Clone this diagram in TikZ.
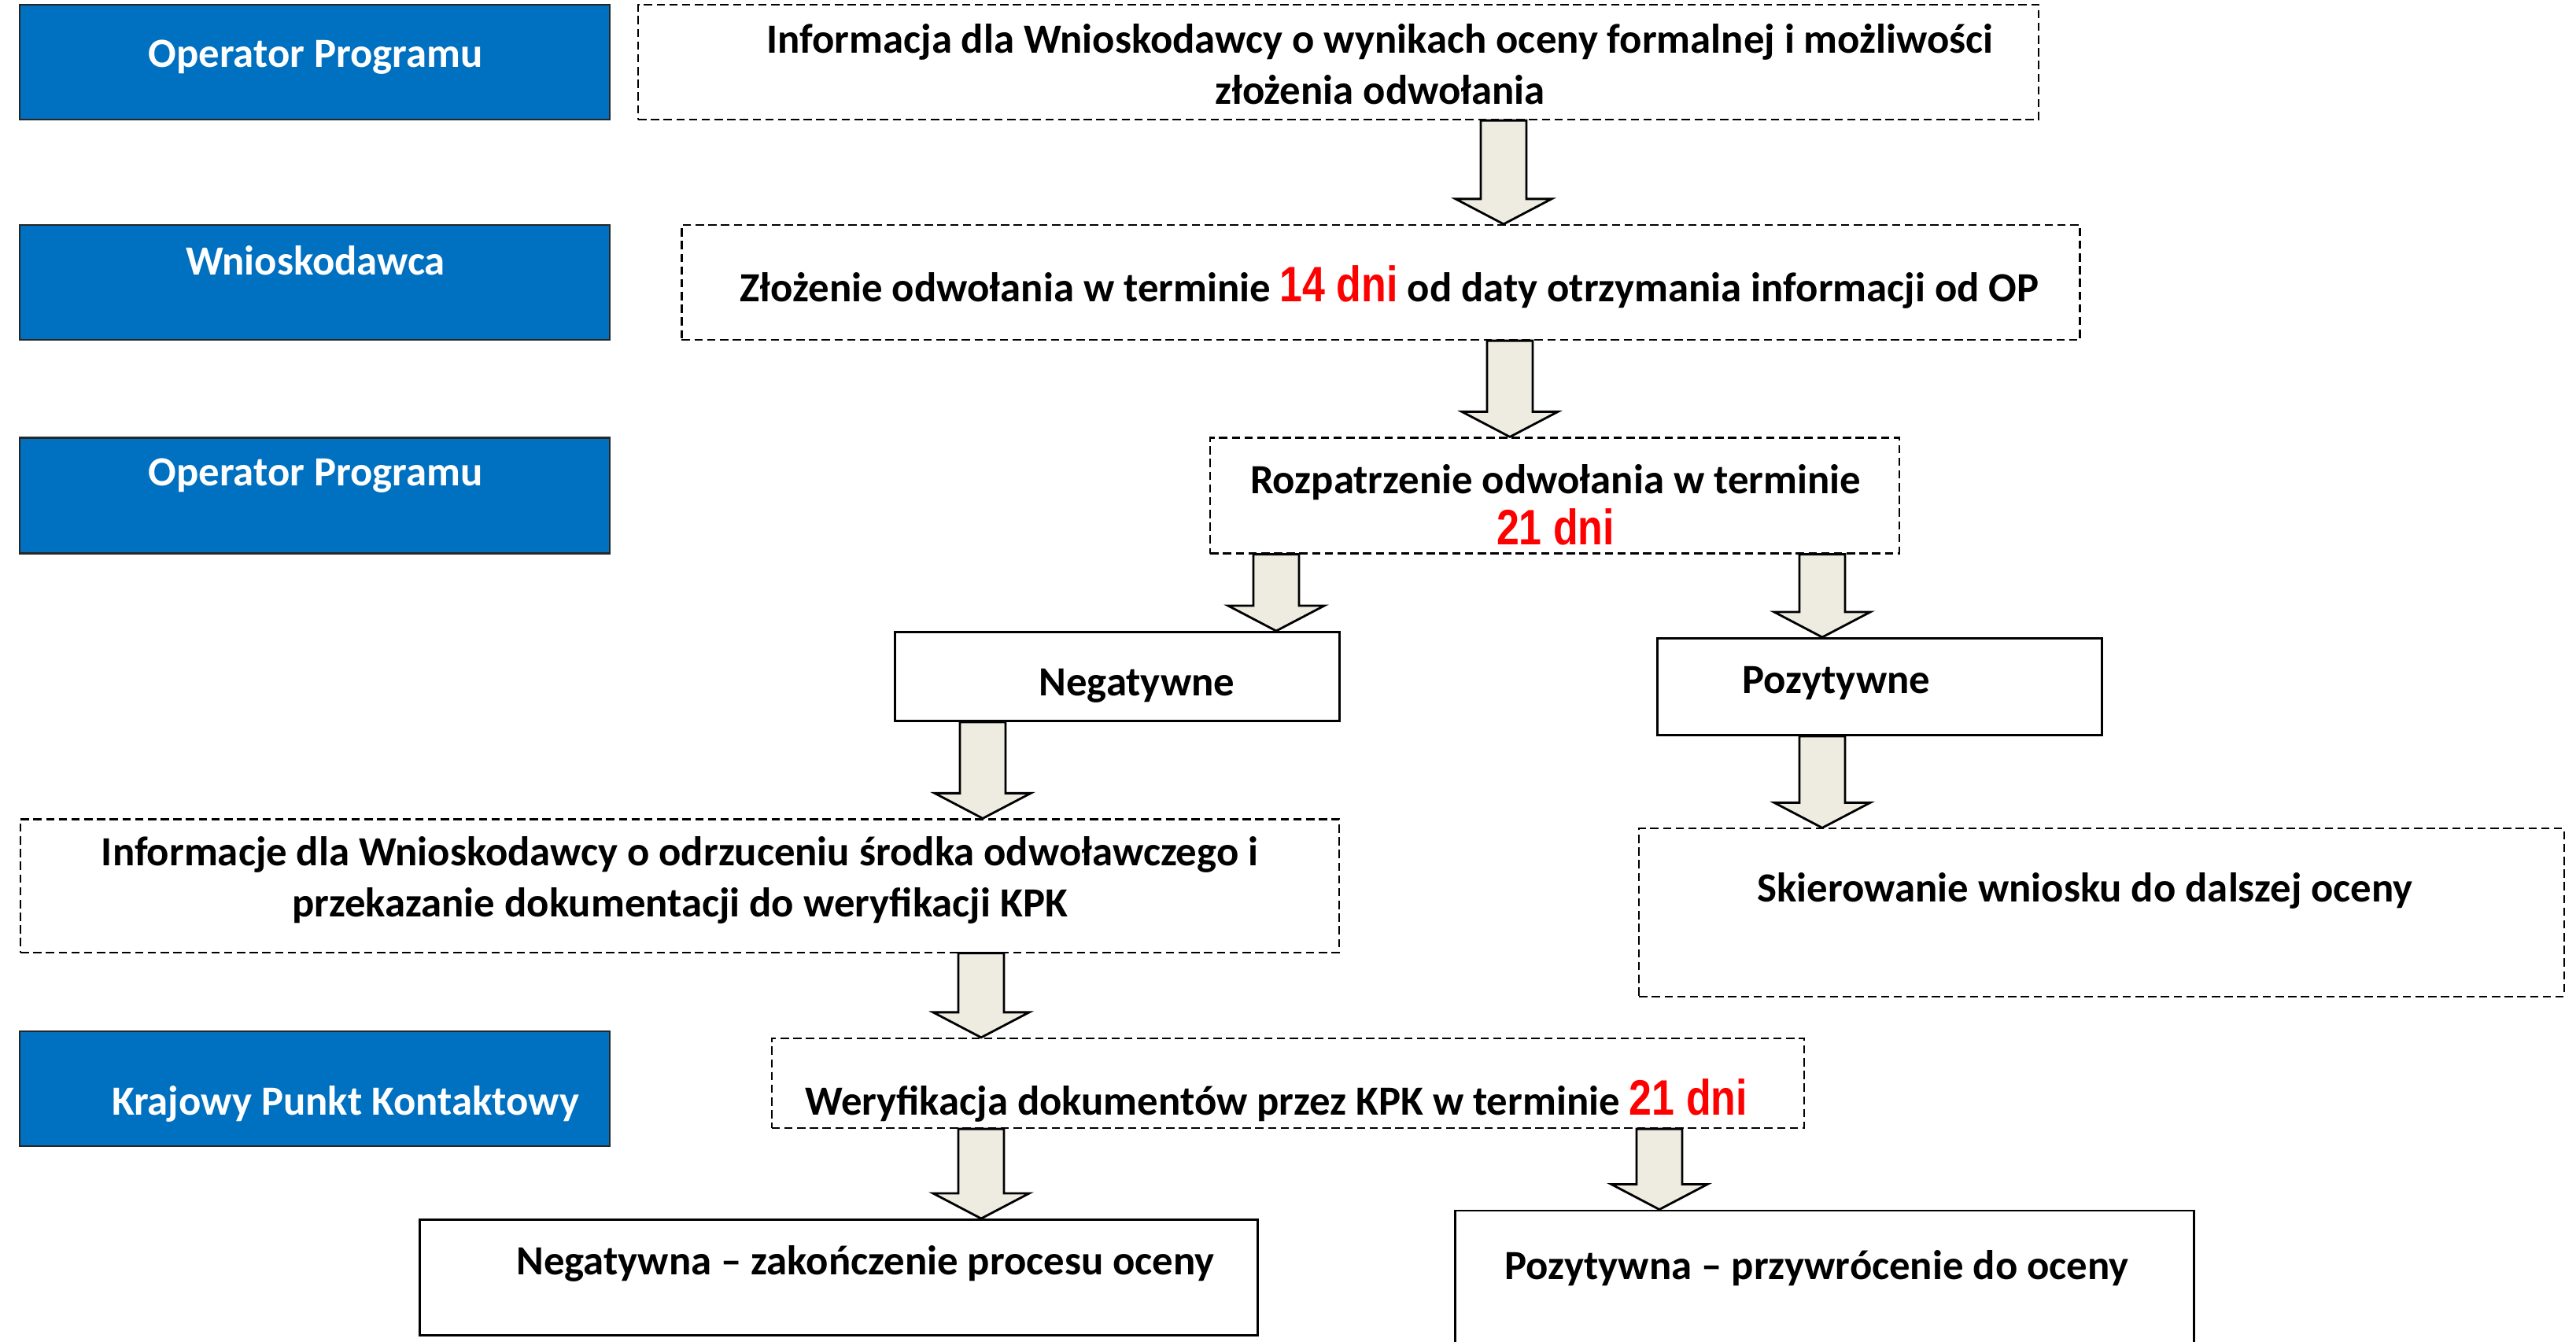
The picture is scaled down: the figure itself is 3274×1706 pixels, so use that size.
\documentclass[tikz,border=0pt]{standalone}
\usepackage{fontspec}
\setmainfont{Carlito}
\newfontfamily\arialfont[FakeStretch=0.82]{Liberation Sans}
\usetikzlibrary{positioning}

\definecolor{opblue}{HTML}{0070C0}
\definecolor{arrfill}{HTML}{EEECE1}

\tikzset{
  bluebox/.style={draw=black!85, line width=0.7pt, fill=opblue, inner sep=0pt},
  dashbox/.style={draw, line width=0.6pt, dash pattern=on 3pt off 1.6pt, inner sep=0pt},
  solidbox/.style={draw, line width=0.8pt, inner sep=0pt},
  txt/.style={font=\fontsize{15}{18.5}\selectfont\bfseries, align=center, inner sep=0pt},
  wtxt/.style={txt, text=white},
  blockarr/.style={draw, line width=0.8pt, fill=arrfill, line join=miter}
}
\newcommand{\dni}[1]{{\arialfont\fontsize{18}{18.5}\selectfont\color{red}#1}}
% block arrow: x position, from node, to node
\newcommand{\blockarrow}[3]{%
  \path (#1,0 |- #2.south) coordinate (ba-s) (#1,0 |- #3.north) coordinate (ba-e);
  \draw[blockarr] ([xshift=-0.29cm]ba-s) -- ([xshift=0.29cm]ba-s)
    -- ([xshift=0.29cm,yshift=0.32cm]ba-e) -- ([xshift=0.61cm,yshift=0.32cm]ba-e)
    -- (ba-e) -- ([xshift=-0.61cm,yshift=0.32cm]ba-e)
    -- ([xshift=-0.29cm,yshift=0.32cm]ba-e) -- cycle;
}

\begin{document}
\begin{tikzpicture}[x=0.01cm, y=-0.01cm]
   \useasboundingbox (0,0) rectangle (3274,1706);

   % left column
   \node[bluebox, minimum width=7.5cm, minimum height=1.46cm] (op1) at (400,79) {};
   \node[wtxt] (op1-t) at (401,73) {Operator Programu};
   \node[bluebox, minimum width=7.5cm, minimum height=1.46cm] (wn) at (400,359) {};
   \node[wtxt] (wn-t) at (401,331) {Wnioskodawca};
   \node[bluebox, minimum width=7.5cm, minimum height=1.47cm] (op2) at (400,630) {};
   \node[wtxt] (op2-t) at (401,605) {Operator Programu};
   \node[bluebox, minimum width=7.5cm, minimum height=1.46cm] (kpk) at (400,1384) {};
   \node[wtxt] (kpk-t) at (439,1403) {Krajowy Punkt Kontaktowy};

   % steps
   \node[dashbox, minimum width=17.79cm, minimum height=1.46cm] (inf1) at (1701,79) {};
   \node[txt] (inf1-t) at (1754,82) {Informacja dla Wnioskodawcy o wynikach oceny formalnej i możliwości\\złożenia odwołania};
   \node[dashbox, minimum width=17.76cm, minimum height=1.46cm] (odw) at (1755,359) {};
   \node[txt] (odw-t) at (1766,365) {Złożenie odwołania w terminie \dni{14 dni} od daty otrzymania informacji od OP};
   \node[dashbox, minimum width=8.75cm, minimum height=1.47cm] (rozp) at (1976,630) {};
   \node[txt] (rozp-t) at (1977,642) {Rozpatrzenie odwołania w terminie\\\dni{21 dni}};

   \node[solidbox, minimum width=5.64cm, minimum height=1.13cm] (neg) at (1420,860) {};
   \node[txt] (neg-t) at (1445,872) {Negatywne};
   \node[solidbox, minimum width=5.64cm, minimum height=1.23cm] (poz) at (2389,873) {};
   \node[txt] (poz-t) at (2334,869) {Pozytywne};

   \node[dashbox, minimum width=16.75cm, minimum height=1.69cm] (inf2) at (864,1126) {};
   \node[txt] (inf2-t) at (864,1119) {Informacje dla Wnioskodawcy o odrzuceniu środka odwoławczego i\\przekazanie dokumentacji do weryfikacji KPK};
   \node[dashbox, minimum width=11.75cm, minimum height=2.13cm] (skier) at (2671,1160) {};
   \node[txt] (skier-t) at (2650,1132) {Skierowanie wniosku do dalszej oceny};

   \node[dashbox, minimum width=13.12cm, minimum height=1.14cm] (wer) at (1637,1377) {};
   \node[txt] (wer-t) at (1622,1399) {Weryfikacja dokumentów przez KPK w terminie \dni{21 dni}};

   \node[solidbox, minimum width=10.65cm, minimum height=1.47cm] (negk) at (1066,1624) {};
   \node[txt] (negk-t) at (1100,1606) {Negatywna – zakończenie procesu oceny};
   \node[solidbox, minimum width=9.38cm, minimum height=1.76cm] (pozk) at (2319,1627) {};
   \node[txt] (pozk-t) at (2309,1612) {Pozytywna – przywrócenie do oceny};

   % arrows
   \blockarrow{1911}{inf1}{odw}
   \blockarrow{1919}{odw}{rozp}
   \blockarrow{1622}{rozp}{neg}
   \blockarrow{2316}{rozp}{poz}
   \blockarrow{1249}{neg}{inf2}
   \blockarrow{2316}{poz}{skier}
   \blockarrow{1247}{inf2}{wer}
   \blockarrow{1247}{wer}{negk}
   \blockarrow{2109}{wer}{pozk}
\end{tikzpicture}
\end{document}
